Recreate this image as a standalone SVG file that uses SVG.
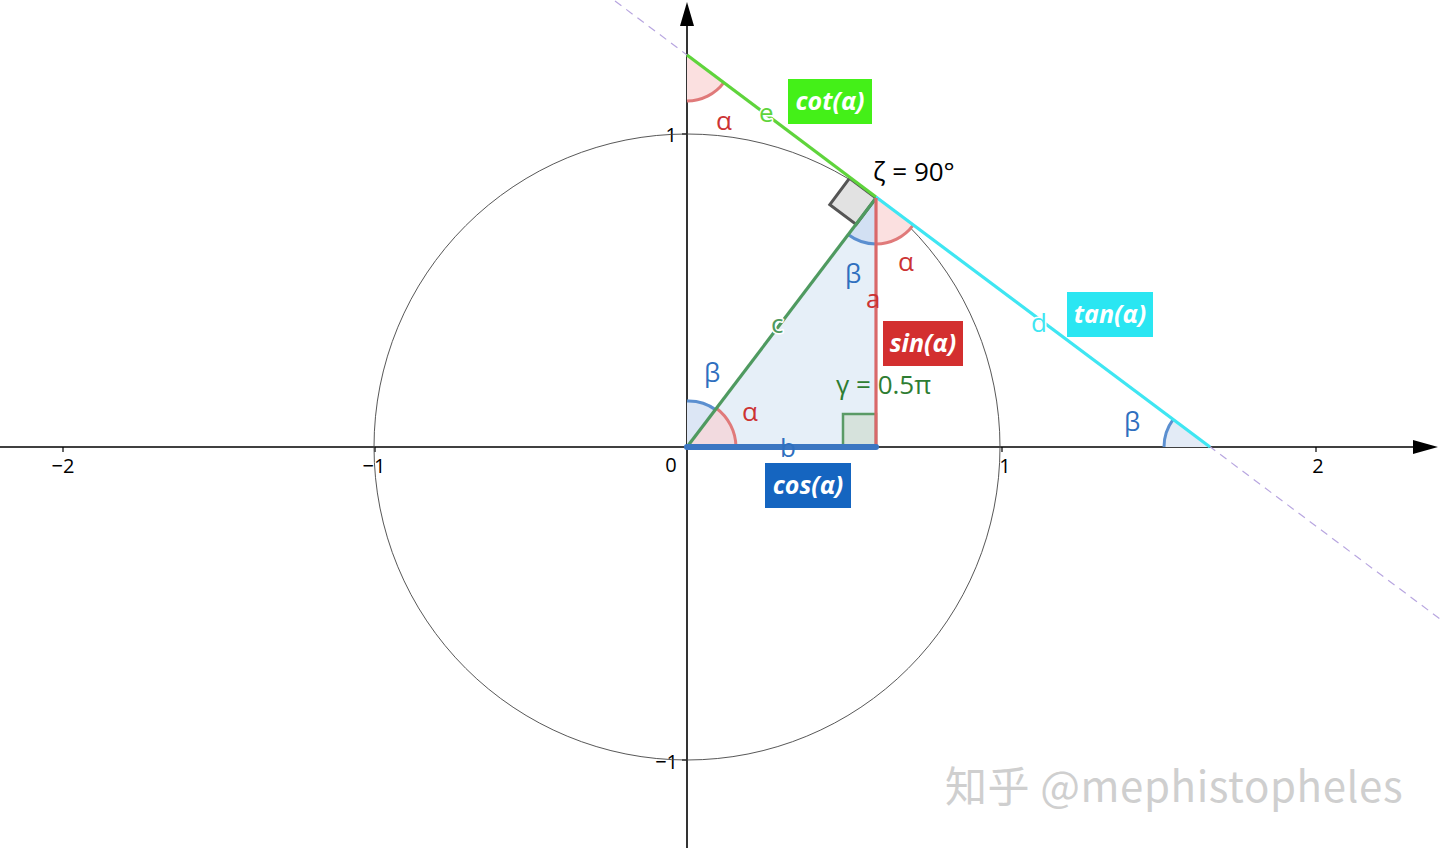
<svg xmlns="http://www.w3.org/2000/svg" width="1440" height="848" viewBox="0 0 1440 848">
<defs>
<style>
.lbl{font-family:"Open Sans","Noto Sans","DejaVu Sans",sans-serif;font-size:26px}
.halo{stroke:#fff;stroke-width:3;paint-order:stroke;stroke-linejoin:round}
.tick{font-family:"Open Sans","Noto Sans","DejaVu Sans",sans-serif;font-size:20px;fill:#000}
.box{font-family:"Open Sans","Noto Sans","DejaVu Sans",sans-serif;font-size:25px;font-weight:bold;font-style:italic;fill:#fff;text-anchor:middle}
.red{fill:#cc3333}.blue{fill:#2f6fbf}.grn{fill:#2e7d32}
</style>
</defs>
<rect width="1440" height="848" fill="#fff"/>
<g id="axes" stroke="#000" stroke-width="1.6">
<line x1="0" y1="447" x2="1418" y2="447"/>
<line x1="687" y1="848" x2="687" y2="22"/>
<polygon points="1413,440 1438,447 1413,454" fill="#000" stroke="none"/>
<polygon points="680,26 687,2 694,26" fill="#000" stroke="none"/>
<g stroke-width="1.2">
<line x1="63" y1="447" x2="63" y2="452"/><line x1="375" y1="447" x2="375" y2="452"/>
<line x1="1002" y1="447" x2="1002" y2="452"/><line x1="1316" y1="447" x2="1316" y2="452"/>
<line x1="682" y1="134" x2="687" y2="134"/><line x1="682" y1="760" x2="687" y2="760"/>
</g>
</g>
<g id="ticklabels">
<text class="tick" x="63" y="473" text-anchor="middle">−2</text>
<text class="tick" x="374" y="473" text-anchor="middle">−1</text>
<text class="tick" x="1005" y="473" text-anchor="middle">1</text>
<text class="tick" x="1318" y="473" text-anchor="middle">2</text>
<text class="tick" x="677" y="142" text-anchor="end">1</text>
<text class="tick" x="678" y="769" text-anchor="end">−1</text>
<text class="tick" x="671" y="472" text-anchor="middle">0</text>
</g>
<circle id="unitcircle" cx="687" cy="447" r="313" fill="none" stroke="#444" stroke-width="0.9"/>
<g id="triangle">
<polygon points="687,447 876,198 876,447" fill="#dce8f5" fill-opacity="0.7"/>
</g>
<g id="angles">
<path d="M687,447 L736,447 A49,49 0 0 0 716,408 Z" fill="#f5d5d8" fill-opacity="0.8" stroke="none"/>
<path d="M736,447 A49,49 0 0 0 716,408" fill="none" stroke="#e07a7a" stroke-width="3"/>
<path d="M687,447 L716,408 A46,46 0 0 0 687,401 Z" fill="#dce6f5" stroke="none"/>
<path d="M716,410 A46,46 0 0 0 687,401" fill="none" stroke="#5b8fd0" stroke-width="3"/>
<path d="M876,198 L876,244 A46,46 0 0 0 912.8,225.6 Z" fill="#fbe0e0" stroke="none"/>
<path d="M876,244 A46,46 0 0 0 912.8,225.6" fill="none" stroke="#e07a7a" stroke-width="3"/>
<path d="M876,198 L848.4,234.8 A46,46 0 0 0 876,244 Z" fill="#d2e0f3" stroke="none"/>
<path d="M848.4,234.8 A46,46 0 0 0 876,244" fill="none" stroke="#5b8fd0" stroke-width="3"/>
<path d="M687,55 L687,101 A46,46 0 0 0 723.8,82.6 Z" fill="#fbe0e0" stroke="none"/>
<path d="M687,101 A46,46 0 0 0 723.8,82.6" fill="none" stroke="#e07a7a" stroke-width="3"/>
<path d="M1210,447 L1164,447 A46,46 0 0 1 1173.2,419.4 Z" fill="#e3ebf6" stroke="none"/>
<path d="M1164,447 A46,46 0 0 1 1173.2,419.4" fill="none" stroke="#5b8fd0" stroke-width="3"/>
<rect x="843" y="414" width="33" height="33" fill="#d6e2dc" stroke="#5a9a66" stroke-width="2.5"/>
<polygon points="876,198 849.6,178.2 829.8,204.6 856.2,224.4" fill="#e2e2e2" stroke="#555" stroke-width="3"/>
</g>
<g id="connectors">
<line x1="615" y1="1" x2="1440" y2="619" stroke="#b8a6e0" stroke-width="1.2" stroke-dasharray="8,6"/>
<line x1="687" y1="55" x2="876" y2="197" stroke="#5fd43c" stroke-width="3.2"/>
<line x1="876" y1="197" x2="1210" y2="447" stroke="#3fe6f2" stroke-width="3.2"/>
<line x1="687" y1="447" x2="876" y2="198" stroke="#4f9a60" stroke-width="3.2"/>
<line x1="876" y1="198" x2="876" y2="447" stroke="#d9686a" stroke-width="3.2"/>
<line x1="687" y1="447" x2="876" y2="447" stroke="#3b76c2" stroke-width="6" stroke-linecap="round"/>
</g>
<g id="labels">
<text class="lbl red" x="716" y="130">α</text>
<text class="lbl halo" x="759" y="122" fill="#5fd43c">e</text>
<text class="lbl" x="873" y="181" fill="#000">ζ = 90°</text>
<text class="lbl blue" x="845" y="283">β</text>
<text class="lbl red" x="898" y="271">α</text>
<text class="lbl red" x="866" y="308">a</text>
<text class="lbl halo" x="771" y="333" fill="#4f9a60">c</text>
<text class="lbl grn" x="836" y="394">γ = 0.5π</text>
<text class="lbl blue" x="704" y="382">β</text>
<text class="lbl red" x="742" y="421">α</text>
<text class="lbl blue" x="788" y="457" text-anchor="middle">b</text>
<text class="lbl halo" x="1031" y="332" fill="#3fe6f2">d</text>
<text class="lbl blue" x="1124" y="431">β</text>
</g>
<g id="cot"><rect x="788" y="79" width="84" height="45" fill="#44f018"/><text class="box" x="830" y="110">cot(α)</text></g>
<g id="sin"><rect x="883" y="321" width="80" height="45" fill="#d32f2f"/><text class="box" x="923" y="352">sin(α)</text></g>
<g id="cos"><rect x="765" y="463" width="86" height="45" fill="#1565c0"/><text class="box" x="808" y="494">cos(α)</text></g>
<g id="tan"><rect x="1067" y="292" width="86" height="45" fill="#2ae6f2"/><text class="box" x="1110" y="323">tan(α)</text></g>
<text x="945" y="802" font-family="'Noto Sans CJK SC','Noto Sans',sans-serif" font-size="42" letter-spacing="0.6" fill="#cfcfcf">知乎 @mephistopheles</text>
</svg>
